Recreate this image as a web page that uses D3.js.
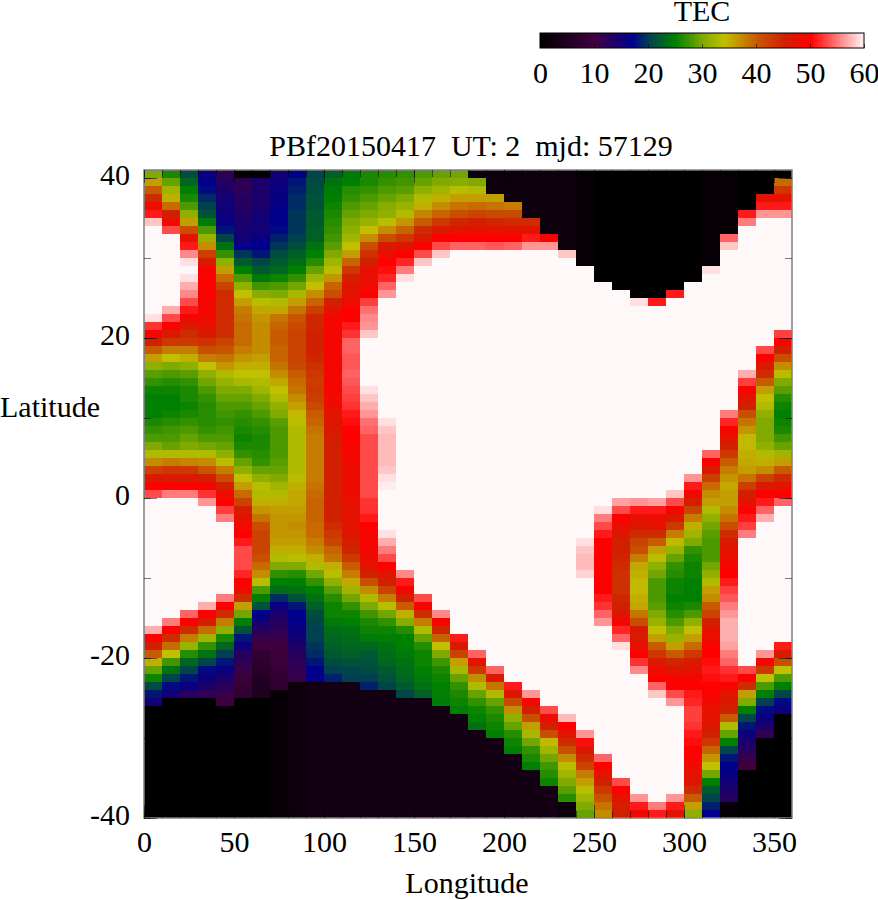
<!DOCTYPE html>
<html><head><meta charset="utf-8">
<script src="https://cdnjs.cloudflare.com/ajax/libs/d3/7.8.5/d3.min.js"></script>
<style>html,body{margin:0;padding:0;background:#fff}svg{display:block}text{font-family:"Liberation Serif",serif;fill:#000}</style>
</head><body><div id="c"></div>
<script>
// TEC values, one list per longitude column (0-10E, 10-20E ...), one value per latitude row from top (+40) to bottom (-40)
const lon000=[30,36,40,44,48,51,58,60,60,60,60,60,60,60,60,60,60,60,59,52,49,45,40,36,31,28.5,27,25.5,25,25,25,26,27,28,30,33,37,42,46,50,53,60,60,60,60,60,60,60,60,60,60,60,60,60,60,60,60,57,50,45,40,35,29,25.5,21,18,15,0,0,0,0,0,0,0,0,0,0,0,0,0,0];
const lon010=[26,29,32,35,39,45,48,53,60,60,60,60,60,60,60,60,60,57,53,50,46,43,38,34,30,28,26.5,25.5,25,25,25.5,26.5,27.5,28,29,33,38,43,46,50,55,60,60,60,60,60,60,60,60,60,60,60,60,60,60,60,55,50,44,39,34,27.5,24,20.5,17.5,15,0,0,0,0,0,0,0,0,0,0,0,0,0,0,0];
const lon020=[21,23,25,26,28,31,36,41,47,51,55.5,59,60,59,57,55.5,53,51,49,46,44,43,38,35,31,28.5,27,26,26,25.5,26,27,28,29,30,33,37.5,43,46,50,55,60,60,60,60,60,60,60,60,60,60,60,60,60,60,54,50,44,38,31.5,26.5,23,20.5,18,16,13,0,0,0,0,0,0,0,0,0,0,0,0,0,0,0];
const lon030=[16,17,17.5,19,20,21.5,24.5,28,31.5,37,42.5,46,49,49.5,49.5,49.5,49,49,48.5,47.5,46,43.5,41,38,34,31,29.5,28,27,26.5,26.5,26.5,27,28,29.5,33,37,40.5,45,49,52,56,60,60,60,60,60,60,60,60,60,60,60,60,57,50,45.5,39,32,27,24,20.5,17.5,15.5,14,12,0,0,0,0,0,0,0,0,0,0,0,0,0,0,0];
const lon040=[12,13,14,15,15,15.5,16,18,20.5,24,27,31,36,39,42,44,44,44,44,44,44,42,40.5,38.5,36.5,33,31.5,30,29,28,27.5,27,27.5,28,29,31,33.5,38,41,45,48,50,52.5,55,60,60,60,60,60,60,60,60,60,55,50,44,38,31,26,23,20,18,16,14,12.5,11,10,0,0,0,0,0,0,0,0,0,0,0,0,0,0];
const lon050=[1,12,12,13,13,13.5,14,14.5,15,16.5,19.5,22,25,28,31,34,36,38,38.5,39,39,39,38,36.5,35,34,32.5,30,29,28,27,26.5,26,25.5,26,27,29,31,34,36,39,42,45.5,47,48.5,50,51,53,53,53,51.5,50,48.5,44,36,29.5,25,21.5,18,15.5,13,12,11,9,8.5,8,0,0,0,0,0,0,0,0,0,0,0,0,0,0,0];
const lon060=[1,14,14,14,14,15,15,15,16,17,18,20.5,22,24.5,27.5,30.5,33.5,35.5,36.5,37,37,37,37,36,35,34,33,32,30,29,28,27,26.5,26,26,26.5,27,29,31,33.5,33,35,36.5,38.5,41,42,42,42,41,39,37,33.5,28,25,21.5,17,15,13,11,9.5,8,7,6.5,5.5,5,5,0,0,0,0,0,0,0,0,0,0,0,0,0,0,0];
const lon070=[15,15.5,16,16,16.5,17,17,17.5,18.5,19.5,21,22,23,25.5,28,30,33,35.5,38.5,39.5,40,40,39.5,39.5,38.5,37,35.5,34,33,31,30,28.5,28,28,28,28,28.5,29,30,32,33,35,36,36.5,36.5,36.5,36,35,33,30,27,25,23.5,19,16,14,13,12,11,10,9.5,9,8.5,8,7.5,1,1,1,1,1,1,1,1,1,1,1,1,1,1,1,1];
const lon080=[17,18,18.5,19,19,19.5,19.5,19.5,20,21,22.5,23.5,25,27,29.5,32.5,36,38.5,40.5,41.5,42,42,42,42,41.5,40,39,38.5,37,36,34.5,33.5,33,33,33,33,33,33,33.5,35,35.5,35.5,36,36.5,37,36.5,36,35,33.5,30,26.5,25,24,21.5,18,17,16.5,16,15,13.5,13,12,11.5,11,2,2,2,2,2,2,2,2,2,2,2,2,2,2,2,2,2];
const lon090=[20.5,21,21,21.5,21.5,22,22,22.5,22.5,24,25,26.5,29,32,34,37,39.5,42.5,44.5,44.5,45,45,45,44.5,43.5,43,42.5,43,42.5,41.5,40,39.5,38.5,38,38,38,38,38,38,38.5,39,39.5,39.5,39.5,39,39,38,37,35,33,29.5,27,25,24,22.5,21,20.5,20,20,19.5,19,18,17,16.5,2.5,2.5,2.5,2.5,2.5,2.5,2.5,2.5,2.5,2.5,2.5,2.5,2.5,2.5,2.5,2.5,2.5];
const lon100=[22.5,24,24.5,25,25.5,26,26.5,27,27.5,28.5,30,32,33.5,36.5,39.5,41,45,47,49,49,49,49,49,49,49,49,49,49,48.5,48,47,46.5,46,45.5,45,45,45,45,45,45,45,45,45,45,44,43,42,39.5,38.5,35,33.5,31,28.5,26.5,25.5,25.5,24.5,23.5,23,22.5,22,21,20,18.5,3,3,3,3,3,3,3,3,3,3,3,3,3,3,3,3,3];
const lon110=[24.5,25,26.5,27,28,29,30,31,32,34,36,39.5,43,45.5,46.5,47,48,50,50,51,52,54,54,53.5,53.5,54,53.5,53,52.5,52,51,50.5,50,50,49,49,48.5,48,48,48,48,47.5,47,47,47,46.5,45.5,44.5,43,40,38,35.5,32,29.5,27,25.5,25,24,23.5,23,22.5,21.5,20.5,20,3,3,3,3,3,3,3,3,3,3,3,3,3,3,3,3,3];
const lon120=[26,26,27,28,29,30,31.5,34,37,41,43.5,45,47.5,47.5,48,50,52.5,54.5,55.5,56,58,60,60,60,60,60,60,59,58,57,56,54.5,54,53,53,53,53,53,53,53,53,52,52,51,50,49,49,49,48,47,45,41,37,33,30,27.5,26,25.5,24.5,23,22,21.5,21,20,18.5,3,3,3,3,3,3,3,3,3,3,3,3,3,3,3,3];
const lon130=[26.5,27,28,29,30.5,31,33.5,37,41,46,47.5,50,50.5,51.5,54,56,60,60,60,60,60,60,60,60,60,60,60,60,60,60,60,59,58,57.5,57.5,57.5,57.5,58,59,59.5,60,60,60,60,60,59,57,55,53,50,47,45,42,38,33.5,29.5,27,25.5,25,24,23.5,23,22,21.5,20.5,3,3,3,3,3,3,3,3,3,3,3,3,3,3,3,3];
const lon140=[27,27.5,28.5,30,31.5,33,36.5,39.5,43,46.5,50,51.5,55,59,60,60,60,60,60,60,60,60,60,60,60,60,60,60,60,60,60,60,60,60,60,60,60,60,60,60,60,60,60,60,60,60,60,60,60,60,55.5,51,49,45,40,35,30.5,26.5,25,25,24.5,24,23.5,23,22,20.5,3,3,3,3,3,3,3,3,3,3,3,3,3,3,3];
const lon150=[28,29,31,33,35,37.5,40,44,46,50,53,58,60,60,60,60,60,60,60,60,60,60,60,60,60,60,60,60,60,60,60,60,60,60,60,60,60,60,60,60,60,60,60,60,60,60,60,60,60,60,60,60,60,53,49,44,38,33,29,26.5,25.5,25.5,25,24.5,24,22.5,3,3,3,3,3,3,3,3,3,3,3,3,3,3,3];
const lon160=[29,30,32,35,37,39.5,43,46,50,53,58,60,60,60,60,60,60,60,60,60,60,60,60,60,60,60,60,60,60,60,60,60,60,60,60,60,60,60,60,60,60,60,60,60,60,60,60,60,60,60,60,60,60,60,60,55.5,49,44.5,39.5,34,30,27.5,26,25.5,25,25,24.5,3,3,3,3,3,3,3,3,3,3,3,3,3,3];
const lon170=[29.5,30.5,33.5,36,38.5,41,44.5,47,50,54,60,60,60,60,60,60,60,60,60,60,60,60,60,60,60,60,60,60,60,60,60,60,60,60,60,60,60,60,60,60,60,60,60,60,60,60,60,60,60,60,60,60,60,60,60,60,60,60,51,46,42,36,32.5,29,27,26,25.5,25,3,3,3,3,3,3,3,3,3,3,3,3,3];
const lon180=[2,30,33,36,39,42,45,47,50,54,60,60,60,60,60,60,60,60,60,60,60,60,60,60,60,60,60,60,60,60,60,60,60,60,60,60,60,60,60,60,60,60,60,60,60,60,60,60,60,60,60,60,60,60,60,60,60,60,60,60,54,47,43,37,33,29,27,25.5,25,24,3,3,3,3,3,3,3,3,3,3,3];
const lon190=[2,2,2,36,38.5,41.5,44.5,47,50,53.5,60,60,60,60,60,60,60,60,60,60,60,60,60,60,60,60,60,60,60,60,60,60,60,60,60,60,60,60,60,60,60,60,60,60,60,60,60,60,60,60,60,60,60,60,60,60,60,60,60,60,60,60,54,46,38.5,33,29,27,26,25.5,25,3,3,3,3,3,3,3,3,3,3];
const lon200=[2,2,2,2,38,41.5,44,47,49.5,54,60,60,60,60,60,60,60,60,60,60,60,60,60,60,60,60,60,60,60,60,60,60,60,60,60,60,60,60,60,60,60,60,60,60,60,60,60,60,60,60,60,60,60,60,60,60,60,60,60,60,60,60,60,60,51,46.5,41.5,37,31,29,26.5,25.5,25,3,3,3,3,3,3,3,3];
const lon210=[2,2,2,2,2,2,44,47,51,56,60,60,60,60,60,60,60,60,60,60,60,60,60,60,60,60,60,60,60,60,60,60,60,60,60,60,60,60,60,60,60,60,60,60,60,60,60,60,60,60,60,60,60,60,60,60,60,60,60,60,60,60,60,60,60,56,49,45,41,36,32.5,29.5,27,26,25,3,3,3,3,3,3];
const lon220=[2,2,2,2,2,2,2,2,50,56,60,60,60,60,60,60,60,60,60,60,60,60,60,60,60,60,60,60,60,60,60,60,60,60,60,60,60,60,60,60,60,60,60,60,60,60,60,60,60,60,60,60,60,60,60,60,60,60,60,60,60,60,60,60,60,60,60,53,48,45,41,34.5,32,29.5,27.5,26.5,25.5,3,3,3,3];
const lon230=[2,2,2,2,2,2,2,2,2,2,58,60,60,60,60,60,60,60,60,60,60,60,60,60,60,60,60,60,60,60,60,60,60,60,60,60,60,60,60,60,60,60,60,60,60,60,60,60,60,60,60,60,60,60,60,60,60,60,60,60,60,60,60,60,60,60,60,60,57.5,50,47,44,41,37,33.5,32,30,28.5,26.5,2,2];
const lon240=[1,1,1,1,1,1,1,1,1,1,1,1,60,60,60,60,60,60,60,60,60,60,60,60,60,60,60,60,60,60,60,60,60,60,60,60,60,60,60,60,60,60,60,60,60,60,59,58,57.5,57.5,58.5,60,60,60,60,60,60,60,60,60,60,60,60,60,60,60,60,60,60,60,56,50.5,46.5,44,42,38,36,33.5,32,30,29];
const lon250=[0,0,0,0,0,0,0,0,0,0,0,0,0,0,60,60,60,60,60,60,60,60,60,60,60,60,60,60,60,60,60,60,60,60,60,60,60,60,60,60,60,60,59,55,53,51,50,50,50,50,50,50,50,51,52,54,56,60,60,60,60,60,60,60,60,60,60,60,60,60,60,60,60,54,50,47,45,43,40.5,38.5,37];
const lon260=[0,0,0,0,0,0,0,0,0,0,0,0,0,0,0,60,60,60,60,60,60,60,60,60,60,60,60,60,60,60,60,60,60,60,60,60,60,60,60,60,60,56.5,53,50,48,46.5,45,45,44.5,44,43.5,43.5,43.5,44.5,45,46.5,49,51.5,54,59,60,60,60,60,60,60,60,60,60,60,60,60,60,60,60,60,53,50,47,45.5,45];
const lon270=[0,0,0,0,0,0,0,0,0,0,0,0,0,0,0,0,59,60,60,60,60,60,60,60,60,60,60,60,60,60,60,60,60,60,60,60,60,60,60,60,60,56,51,47.5,46.5,44,42,41,38,35.5,35,34.5,34.5,35,35.5,38.5,41,46,46,47.5,50,52,55.5,60,60,60,60,60,60,60,60,60,60,60,60,60,60,60,56,51,49];
const lon280=[0,0,0,0,0,0,0,0,0,0,0,0,0,0,0,0,51,60,60,60,60,60,60,60,60,60,60,60,60,60,60,60,60,60,60,60,60,60,60,60,60,56.5,51,48,47,44,40,36,33.5,31,29.5,28,28,28,28.5,30,31.5,34,36,40,43,46,48,50,54,58,60,60,60,60,60,60,60,60,60,60,60,60,60,55,51];
const lon290=[0,0,0,0,0,0,0,0,0,0,0,0,0,0,0,51,60,60,60,60,60,60,60,60,60,60,60,60,60,60,60,60,60,60,60,60,60,60,60,60,58,53,49,46,43,38,34.5,31.5,29,27,26.5,25.5,25.5,25,25.5,26.5,28,30,31.5,36,40,44.5,46.5,49,50,53,56,60,60,60,60,60,60,60,60,60,60,60,56,51,47];
const lon300=[0,0,0,0,0,0,0,0,0,0,0,0,0,0,60,60,60,60,60,60,60,60,60,60,60,60,60,60,60,60,60,60,60,60,60,60,60,60,56,51,49,45.5,42,38,35,32,30,27,26,25.5,25.5,25,25,25,26,28,31,34,36,39,43,46,47,49,50,51,51.5,52.5,52.5,52,51,50.5,50,49.5,48.5,47,46.5,44,40,36,31];
const lon310=[1,1,1,1,1,1,1,1,1,1,1,1,59,60,60,60,60,60,60,60,60,60,60,60,60,60,60,60,60,60,60,60,60,60,60,54,50,46,42.5,39,37,36,33,31,29.5,28.5,28,28,28,29.5,31,33,36,37,40,42,45,47,48,49.5,50,50.5,51,50.5,50,49.5,48.5,47.5,47,46.5,45,43,39.5,36.5,34,29.5,25,22,20.5,18.5,17];
const lon320=[1,1,1,1,1,1,1,1,54,58,60,60,60,60,60,60,60,60,60,60,60,60,60,60,60,60,60,60,60,60,55,51.5,49.5,47,45,43,40,38,36.5,35.5,36,36,37,38.5,41,44,46,47,48,49,50,51,52.5,53.5,55,56,57,57,57,56.5,55,54,52,51,49.5,47,46,45,40,33,29,25,20.5,18,17,16,15,14,13,1,1];
const lon330=[0,0,0,0,0,51,55,60,60,60,60,60,60,60,60,60,60,60,60,60,60,60,60,60,60,57,52.5,49.5,47,45,41,38.5,36.5,34.5,34.5,35,35.5,36,38.5,42.5,45,47,49.5,51,52.5,55,60,60,60,60,60,60,60,60,60,60,60,60,60,60,60,60,53,50,44,36,30,25,20.5,18,15.5,14,13,11,10,0,0,0,0,0,0];
const lon340=[0,0,0,47,51,56,60,60,60,60,60,60,60,60,60,60,60,60,60,60,60,60,53,50,46,44,40,36,34,33,31,30,30,30,31,33,35,37,42,46,50,51,54,57,60,60,60,60,60,60,60,60,60,60,60,60,60,60,60,60,56,49,43,34,28,25,20,17.5,16,14,12,0,0,0,0,0,0,0,0,0,0];
const lon350=[0,39,43,47,51,56,60,60,60,60,60,60,60,60,60,60,60,60,60,60,52.5,50,45,41,37,33.5,30,28.5,26.5,25.5,25,25.5,26,27.5,29,32,36,40,44,47,50,54,60,60,60,60,60,60,60,60,60,60,60,60,60,60,60,60,60,51,46,41,34,28,25,20.5,17.5,15.5,0,0,0,0,0,0,0,0,0,0,0,0,0];
const tecColumns=[lon000,lon010,lon020,lon030,lon040,lon050,lon060,lon070,lon080,lon090,lon100,lon110,lon120,lon130,lon140,lon150,lon160,lon170,lon180,lon190,lon200,lon210,lon220,lon230,lon240,lon250,lon260,lon270,lon280,lon290,lon300,lon310,lon320,lon330,lon340,lon350];

const colorStops=[0,10,17,20,25,30,34,40,45,50,60];
const colorValues=["#000000","#400040","#00008c","#004050","#008000","#80aa00","#c0c000","#c85a00","#d02000","#ff0000","#fff8f8"];
const xMajorTicks=[0,50,100,150,200,250,300,350];
const xMinorTicks=[0,10,20,30,40,50,60,70,80,90,100,110,120,130,140,150,160,170,180,190,200,210,220,230,240,250,260,270,280,290,300,310,320,330,340,350];
const yMajorTicks=[-40,-20,0,20,40];
const yMinorTicks=[-40,-30,-20,-10,0,10,20,30,40];
const legendTicks=[0,10,20,30,40,50,60];

const W=878,H=900,FS=30;
const svg=d3.select("#c").append("svg").attr("width",W).attr("height",H);
const x=d3.scaleLinear().domain([0,360]).range([144,792]);
const y=d3.scaleLinear().domain([-40,41]).range([818,170]);
const color=d3.scaleLinear().domain(colorStops).range(colorValues).clamp(true);

const cols=svg.append("g").attr("shape-rendering","crispEdges");
tecColumns.forEach((col,i)=>{
  cols.selectAll(null).data(col).enter().append("rect")
    .attr("x",x(i*10)).attr("width",x((i+1)*10)-x(i*10))
    .attr("y",(d,r)=>y(41-r)).attr("height",(d,r)=>y(40-r)-y(41-r))
    .attr("fill",d=>color(d));
});

// frame
svg.append("rect").attr("x",144).attr("y",170).attr("width",648).attr("height",648)
  .attr("fill","none").attr("stroke","#808080").attr("stroke-width",1.5);

function axis(gen,tx,ty){
  const g=svg.append("g").attr("transform",`translate(${tx},${ty})`).call(gen);
  g.select(".domain").remove();
  g.selectAll("line").attr("stroke","#000").attr("stroke-opacity",0.5).attr("stroke-width",1);
  g.selectAll("text").attr("font-size",FS).attr("font-family","Liberation Serif").style("fill","#000");
  return g;
}
// y axis
axis(d3.axisLeft(y).tickValues(yMinorTicks).tickSize(-7).tickFormat(""),144,0);
axis(d3.axisRight(y).tickValues(yMinorTicks).tickSize(-7).tickFormat(""),792,0);
axis(d3.axisLeft(y).tickValues(yMajorTicks).tickSize(-13).tickPadding(0).tickFormat(d=>d),144,0)
  .selectAll("text").attr("x",-14).attr("y",-3).attr("dy","0.32em").attr("text-anchor","end");
axis(d3.axisRight(y).tickValues(yMajorTicks).tickSize(-13).tickFormat(""),792,0);
// x axis
axis(d3.axisBottom(x).tickValues(xMinorTicks).tickSize(-7).tickFormat(""),0,818);
axis(d3.axisTop(x).tickValues(xMinorTicks).tickSize(-7).tickFormat(""),0,170);
axis(d3.axisBottom(x).tickValues(xMajorTicks).tickSize(-13).tickFormat(d=>d),0,818)
  .selectAll("text").attr("y",34).attr("dy",0).attr("text-anchor","middle");
axis(d3.axisTop(x).tickValues(xMajorTicks).tickSize(-13).tickFormat(""),0,170);

const label=(t,xx,yy,a)=>svg.append("text").attr("x",xx).attr("y",yy).attr("text-anchor",a||"middle").attr("font-size",FS).attr("xml:space","preserve").style("white-space","pre").text(t);
label("PBf20150417  UT: 2  mjd: 57129",471,156);
label("Longitude",467,893);
label("Latitude",0,417,"start");
label("TEC",702,21);

// legend
const lx=d3.scaleLinear().domain([0,60]).range([540,864]);
const lg=svg.append("g").attr("shape-rendering","crispEdges");
lg.selectAll(null).data(d3.range(0,60,0.25)).enter().append("rect")
  .attr("x",d=>lx(d)).attr("y",33).attr("width",lx(0.25)-lx(0)+0.5).attr("height",15).attr("fill",d=>color(d));
svg.append("rect").attr("x",540).attr("y",33).attr("width",324).attr("height",15).attr("fill","none").attr("stroke","#000").attr("stroke-width",1);
const la=svg.append("g").attr("transform","translate(0,48)").call(d3.axisBottom(lx).tickValues(legendTicks).tickSize(-4).tickFormat(d=>d));
la.select(".domain").remove();
la.selectAll("line").attr("stroke","#000").attr("stroke-opacity",0.6);
la.selectAll("text").attr("font-size",FS).attr("font-family","Liberation Serif").attr("y",35).attr("dy",0).style("fill","#000");
</script></body></html>
